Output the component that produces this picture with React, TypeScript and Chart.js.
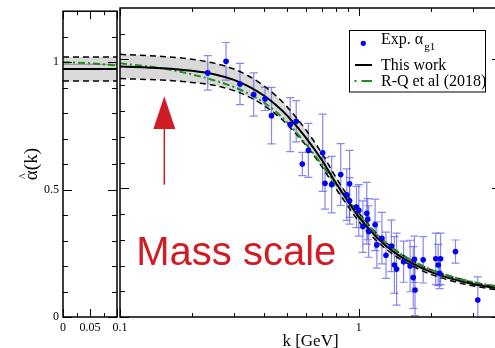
import React, { useEffect, useRef } from 'react';
import { Chart, registerables } from 'chart.js';
Chart.register(...registerables);

const SERIF = "'Liberation Serif', 'Times New Roman', serif";
const SANS = "'Liberation Sans', Arial, sans-serif";

// ---------- Experimental data (alpha_g1) ----------
const expK = [0.233, 0.278, 0.318, 0.363, 0.405, 0.431, 0.516, 0.547, 0.58, 0.615, 0.706, 0.722, 0.77, 0.84, 0.915, 0.89, 0.915, 0.978, 1.0, 1.08, 1.09, 1.04, 1.17, 1.1, 1.19, 1.25, 1.3, 1.37, 1.41, 1.44, 1.54, 1.64, 1.71, 1.69, 1.72, 1.86, 2.1, 2.2, 2.15, 2.18, 2.54, 3.15];
const expAlpha = [0.948, 0.993, 0.905, 0.864, 0.847, 0.782, 0.747, 0.76, 0.594, 0.647, 0.638, 0.519, 0.514, 0.553, 0.517, 0.475, 0.451, 0.427, 0.414, 0.403, 0.38, 0.351, 0.358, 0.332, 0.28, 0.306, 0.24, 0.276, 0.202, 0.186, 0.215, 0.198, 0.224, 0.153, 0.105, 0.222, 0.226, 0.226, 0.202, 0.17, 0.254, 0.066];
const expErr = [0.067, 0.073, 0.08, 0.084, 0.045, 0.11, 0.105, 0.08, 0.045, 0.105, 0.15, 0.1, 0.11, 0.12, 0.13, 0.1, 0.09, 0.08, 0.1, 0.12, 0.08, 0.1, 0.1, 0.1, 0.09, 0.1, 0.09, 0.1, 0.11, 0.14, 0.08, 0.1, 0.09, 0.12, 0.1, 0.09, 0.1, 0.1, 0.08, 0.06, 0.045, 0.09];

// ---------- Curves (main panel, log k) ----------
const curveK = [0.1, 0.15, 0.2, 0.25, 0.3, 0.35, 0.4, 0.45, 0.5, 0.6, 0.7, 0.8, 0.9, 1.0, 1.2, 1.4, 1.7, 2.0, 2.5, 3.0, 4.0];
const thisWork = [0.973, 0.966, 0.956, 0.942, 0.921, 0.893, 0.86, 0.823, 0.783, 0.697, 0.61, 0.522, 0.45, 0.388, 0.306, 0.253, 0.205, 0.175, 0.146, 0.128, 0.108];
const bandUpper = [1.02, 1.012, 1.001, 0.985, 0.963, 0.933, 0.898, 0.859, 0.817, 0.727, 0.636, 0.544, 0.469, 0.405, 0.32, 0.265, 0.215, 0.184, 0.154, 0.135, 0.114];
const bandLower = [0.926, 0.92, 0.911, 0.899, 0.879, 0.853, 0.822, 0.787, 0.749, 0.667, 0.584, 0.5, 0.431, 0.371, 0.292, 0.241, 0.195, 0.166, 0.138, 0.121, 0.102];
const rq2018 = [0.985, 0.966, 0.942, 0.918, 0.893, 0.865, 0.833, 0.797, 0.757, 0.672, 0.592, 0.518, 0.454, 0.398, 0.318, 0.264, 0.216, 0.185, 0.155, 0.136, 0.116];

// ---------- Curves (left panel, linear k) ----------
const leftK = [0, 0.05, 0.1];
const leftThisWork = [0.973, 0.973, 0.973];
const leftUpper = [1.02, 1.02, 1.02];
const leftLower = [0.926, 0.926, 0.926];
const leftRQ = [1.0, 0.996, 0.987];
const leftGrey = [0.991, 0.991, 0.991];

// ---------- Ticks ----------
const yLabels = [0, 0.5, 1];
const yMinor = [0.1, 0.2, 0.3, 0.4, 0.6, 0.7, 0.8, 0.9, 1.1];
const leftXLabels = [0, 0.05];
const leftXMajor = [0, 0.05, 0.1];
const leftXMinor = [0.025, 0.075];
const mainXLabels = [0.1, 1];
const mainXMajor = [0.1, 1];
const mainXMinor = [0.2, 0.3, 0.4, 0.5, 0.6, 0.7, 0.8, 0.9, 2, 3];

// ---------- Annotation ----------
const arrowK = 0.1533;
const arrowTail = 0.514;
const arrowHeadBase = 0.73;
const arrowTip = 0.857;
const massLabelK = 0.117;
const massLabelY = 0.202;

const BLUE = '#0000f0';
const GREEN = '#1f8f1f';
const RED = '#d01c24';
const BAND = '#d9d9d9';

const pts = (xs: number[], ys: number[]) => xs.map((x, i) => ({ x, y: ys[i] }));

const frameTicks = {
  id: 'frameTicks',
  afterDatasetsDraw(chart: any, _a: any, opts: any) {
    const { ctx, chartArea: a, scales } = chart;
    const xs = scales.x, ys = scales.y;
    ctx.save();
    ctx.strokeStyle = '#000';
    ctx.lineWidth = 1;
    const seg = (x1: number, y1: number, x2: number, y2: number) => {
      ctx.beginPath(); ctx.moveTo(x1, y1); ctx.lineTo(x2, y2); ctx.stroke();
    };
    const xt = (vals: number[], len: number) => vals.forEach(v => {
      const p = Math.round(xs.getPixelForValue(v)) + 0.5;
      seg(p, a.bottom, p, a.bottom - len); seg(p, a.top, p, a.top + len);
    });
    const yt = (vals: number[], len: number) => vals.forEach(v => {
      const p = Math.round(ys.getPixelForValue(v)) + 0.5;
      seg(a.left, p, a.left + len, p); seg(a.right, p, a.right - len, p);
    });
    xt(opts.xMajor, 8); xt(opts.xMinor, 4);
    yt(yLabels, 9); yt(yMinor, 5);
    ctx.lineWidth = 1.5;
    ctx.strokeRect(a.left, a.top, a.right - a.left, a.bottom - a.top);
    ctx.restore();
  }
};

const yTitle = {
  id: 'yTitle',
  afterDraw(chart: any) {
    const { ctx, chartArea: a } = chart;
    ctx.save();
    ctx.translate(37, (a.top + a.bottom) / 2);
    ctx.rotate(-Math.PI / 2);
    ctx.fillStyle = '#000';
    ctx.font = `19px ${SERIF}`;
    ctx.textBaseline = 'alphabetic';
    ctx.textAlign = 'left';
    const text = 'α(k)';
    const total = ctx.measureText(text).width;
    const aw = ctx.measureText('α').width;
    const x0 = -total / 2;
    ctx.fillText(text, x0, 0);
    ctx.font = `12px ${SERIF}`;
    ctx.textAlign = 'center';
    ctx.fillText('^', x0 + aw / 2 - 1, -10);
    ctx.restore();
  }
};

const errorBars = {
  id: 'errorBars',
  beforeDatasetsDraw(chart: any) {
    const { ctx, scales, chartArea: a } = chart;
    const xs = scales.x, ys = scales.y;
    ctx.save();
    ctx.beginPath();
    ctx.rect(a.left, a.top, a.right - a.left, a.bottom - a.top);
    ctx.clip();
    ctx.strokeStyle = 'rgba(85,85,235,0.7)';
    ctx.lineWidth = 1.2;
    expK.forEach((k, i) => {
      const px = xs.getPixelForValue(k);
      const yt = ys.getPixelForValue(expAlpha[i] + expErr[i]);
      const yb = ys.getPixelForValue(expAlpha[i] - expErr[i]);
      ctx.beginPath();
      ctx.moveTo(px, yt); ctx.lineTo(px, yb);
      ctx.moveTo(px - 4, yt); ctx.lineTo(px + 4, yt);
      ctx.moveTo(px - 4, yb); ctx.lineTo(px + 4, yb);
      ctx.stroke();
    });
    ctx.restore();
  }
};

const annotations = {
  id: 'annotations',
  afterDraw(chart: any) {
    const { ctx, scales } = chart;
    const xs = scales.x, ys = scales.y;
    ctx.save();
    // arrow
    const ax = xs.getPixelForValue(arrowK);
    const yTail = ys.getPixelForValue(arrowTail);
    const yBase = ys.getPixelForValue(arrowHeadBase);
    const yTip = ys.getPixelForValue(arrowTip);
    ctx.strokeStyle = RED; ctx.fillStyle = RED; ctx.lineWidth = 1.5;
    ctx.beginPath(); ctx.moveTo(ax, yTail); ctx.lineTo(ax, yBase); ctx.stroke();
    ctx.beginPath(); ctx.moveTo(ax, yTip); ctx.lineTo(ax - 11, yBase); ctx.lineTo(ax + 11, yBase); ctx.closePath(); ctx.fill();
    // label
    ctx.font = `40px ${SANS}`;
    ctx.textBaseline = 'alphabetic';
    ctx.textAlign = 'left';
    ctx.fillText('Mass scale', xs.getPixelForValue(massLabelK), ys.getPixelForValue(massLabelY));

    // legend
    ctx.fillStyle = '#fff';
    ctx.fillRect(349.5, 30.5, 136, 61.5);
    ctx.strokeStyle = '#000'; ctx.lineWidth = 1;
    ctx.strokeRect(349.5, 30.5, 136, 61.5);
    ctx.fillStyle = BLUE;
    ctx.beginPath(); ctx.arc(363.3, 43.3, 2.6, 0, Math.PI * 2); ctx.fill();
    ctx.fillStyle = '#000';
    ctx.font = `16px ${SERIF}`;
    ctx.fillText('Exp. α', 381, 44);
    const w = ctx.measureText('Exp. α').width;
    ctx.font = `11px ${SERIF}`;
    ctx.fillText('g1', 381 + w + 1, 50);
    ctx.font = `16px ${SERIF}`;
    ctx.fillText('This work', 381, 69.5);
    ctx.fillText('R-Q et al (2018)', 381, 85.5);
    ctx.lineWidth = 2;
    ctx.beginPath(); ctx.moveTo(355, 65); ctx.lineTo(372, 65); ctx.stroke();
    ctx.strokeStyle = GREEN;
    ctx.beginPath(); ctx.moveTo(354.5, 81); ctx.lineTo(356.5, 81); ctx.moveTo(361.5, 81); ctx.lineTo(372, 81); ctx.stroke();
    ctx.restore();
  }
};

const lineDs = (label: string, data: any[], color: string, width: number, dash: number[] = [], extra: any = {}) => ({
  label, data, borderColor: color, borderWidth: width, borderDash: dash,
  pointRadius: 0, cubicInterpolationMode: 'monotone', fill: false, ...extra,
});

export default function App() {
  const leftRef = useRef<HTMLCanvasElement>(null);
  const mainRef = useRef<HTMLCanvasElement>(null);

  useEffect(() => {
    const tickFont = { family: SERIF, size: 12 };
    const leftChart = new Chart(leftRef.current as HTMLCanvasElement, {
      type: 'line',
      data: {
        datasets: [
          lineDs('This work', pts(leftK, leftThisWork), '#000', 2),
          lineDs('R-Q', pts(leftK, leftRQ), GREEN, 2, [7, 3, 2, 3]),
          lineDs('grey', pts(leftK, leftGrey), '#9a9a9a', 1.2),
          lineDs('upper', pts(leftK, leftUpper), '#000', 1.5, [6, 4], { fill: '+1', backgroundColor: BAND }),
          lineDs('lower', pts(leftK, leftLower), '#000', 1.5, [6, 4]),
        ] as any,
      },
      options: {
        responsive: false,
        animation: false,
        events: [],
        layout: { padding: { left: 0, right: 2, top: 8, bottom: 0 } },
        plugins: {
          legend: { display: false },
          tooltip: { enabled: false },
          filler: { drawTime: 'beforeDatasetsDraw' },
          frameTicks: { xMajor: leftXMajor, xMinor: leftXMinor },
        } as any,
        scales: {
          x: {
            type: 'linear', min: 0, max: 0.1,
            grid: { display: false, drawTicks: false }, border: { display: false },
            afterBuildTicks: (s: any) => { s.ticks = leftXLabels.map(v => ({ value: v })); },
            afterFit: (s: any) => { s.height = 35; },
            ticks: { font: tickFont, color: '#000', padding: 4, maxRotation: 0, autoSkip: false, callback: (v: any) => String(v) },
          },
          y: {
            type: 'linear', min: 0, max: 1.2,
            grid: { display: false, drawTicks: false }, border: { display: false },
            afterBuildTicks: (s: any) => { s.ticks = yLabels.map(v => ({ value: v })); },
            afterFit: (s: any) => { s.width = 63; },
            ticks: { font: tickFont, color: '#000', padding: 4, callback: (v: any) => String(v) },
          },
        },
      } as any,
      plugins: [frameTicks, yTitle],
    });

    const mainChart = new Chart(mainRef.current as HTMLCanvasElement, {
      type: 'line',
      data: {
        datasets: [
          { label: 'Exp.', data: pts(expK, expAlpha), showLine: false, pointRadius: 2.8, pointBackgroundColor: BLUE, pointBorderColor: BLUE, pointBorderWidth: 0, borderColor: BLUE },
          lineDs('This work', pts(curveK, thisWork), '#000', 2),
          lineDs('R-Q et al (2018)', pts(curveK, rq2018), GREEN, 2, [7, 3, 2, 3]),
          lineDs('upper', pts(curveK, bandUpper), '#000', 1.5, [6, 4], { fill: '+1', backgroundColor: BAND }),
          lineDs('lower', pts(curveK, bandLower), '#000', 1.5, [6, 4]),
        ] as any,
      },
      options: {
        responsive: false,
        animation: false,
        events: [],
        layout: { padding: { left: 120, right: 3, top: 8, bottom: 0 } },
        plugins: {
          legend: { display: false },
          tooltip: { enabled: false },
          filler: { drawTime: 'beforeDatasetsDraw' },
          frameTicks: { xMajor: mainXMajor, xMinor: mainXMinor },
        } as any,
        scales: {
          x: {
            type: 'logarithmic', min: 0.1, max: 3.94,
            grid: { display: false, drawTicks: false }, border: { display: false },
            afterBuildTicks: (s: any) => { s.ticks = mainXLabels.map(v => ({ value: v })); },
            afterFit: (s: any) => { s.height = 35; },
            ticks: { font: tickFont, color: '#000', padding: 4, maxRotation: 0, autoSkip: false, callback: (v: any) => String(v) },
            title: { display: true, text: 'k [GeV]', color: '#000', font: { family: SERIF, size: 17 }, padding: { top: 0, bottom: 0 } },
          },
          y: { type: 'linear', min: 0, max: 1.2, display: false },
        },
      } as any,
      plugins: [errorBars, frameTicks, annotations],
    });

    return () => { leftChart.destroy(); mainChart.destroy(); };
  }, []);

  return (
    <div style={{ position: 'fixed', left: 0, top: 0, width: 495, height: 348, overflow: 'hidden', background: '#fff' }}>
      <canvas ref={mainRef} width={505} height={352} style={{ position: 'absolute', left: 0, top: 0 }} />
      <canvas ref={leftRef} width={119} height={352} style={{ position: 'absolute', left: 0, top: 0 }} />
    </div>
  );
}
